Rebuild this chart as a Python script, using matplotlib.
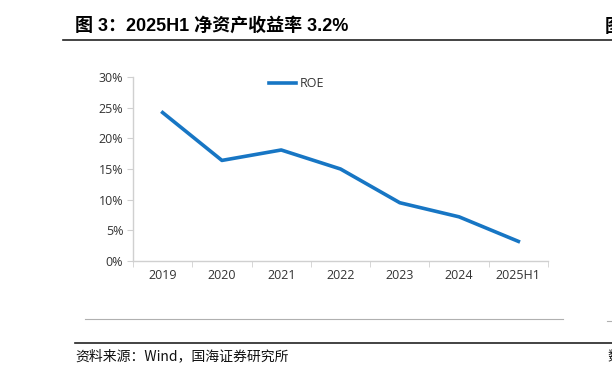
import matplotlib
matplotlib.use("Agg")
import matplotlib.pyplot as plt
from matplotlib.lines import Line2D

plt.rcParams['font.family'] = ['Open Sans', 'Noto Sans CJK SC', 'DejaVu Sans']

categories = ["2019", "2020", "2021", "2022", "2023", "2024", "2025H1"]
roe = [24.2, 16.4, 18.1, 15.0, 9.5, 7.2, 3.2]
yticks = [0, 5, 10, 15, 20, 25, 30]
title = "图 3：2025H1 净资产收益率 3.2%"
source = "资料来源：Wind，国海证券研究所"

W, H = 612, 379
fig = plt.figure(figsize=(W / 100, H / 100), dpi=100)
ax = fig.add_axes([133 / W, 1 - 261 / H, (548 - 133) / W, (261 - 77) / H])

x = list(range(len(categories)))
ax.plot(x, roe, color="#1776C4", lw=2.6, label="ROE", solid_joinstyle="round")
ax.set_xlim(-0.5, len(categories) - 0.5)
ax.set_ylim(0, 30)
ax.set_yticks(yticks)
ax.set_yticklabels([f"{v}%" for v in yticks], fontsize=9, color="#333333")
ax.set_xticks(x)
ax.set_xticklabels(categories, fontsize=9, color="#333333")
ax.set_xticks([i - 0.5 for i in range(len(categories) + 1)], minor=True)
ax.tick_params(axis="x", which="major", length=0, pad=6)
ax.tick_params(axis="x", which="minor", length=4, color="#d0d0d0", direction="out")
ax.tick_params(axis="y", length=4, color="#d0d0d0", pad=3)
for s in ["top", "right"]:
    ax.spines[s].set_visible(False)
for s in ["left", "bottom"]:
    ax.spines[s].set_color("#d0d0d0")
    ax.spines[s].set_linewidth(1)
ax.legend(loc="upper left", bbox_to_anchor=(0.3, 1.06), frameon=False, fontsize=9,
          handlelength=2.2, handletextpad=0.3, labelcolor="#333333")

# title and rules
fig.text(75 / W, 1 - 26 / H, title, fontsize=13, fontweight="bold", va="center", ha="left",
         family=['Liberation Sans', 'Noto Sans CJK SC'])
fig.text(605 / W, 1 - 26 / H, "图", fontsize=13, fontweight="bold", va="center", ha="left",
         family=['Noto Sans CJK SC'])
fig.add_artist(Line2D([63 / W, 1], [1 - 40 / H, 1 - 40 / H], color="#222222", lw=1.2))
fig.add_artist(Line2D([85 / W, 563 / W], [1 - 319 / H, 1 - 319 / H], color="#b0b0b0", lw=0.8))
fig.add_artist(Line2D([607 / W, 1], [1 - 321 / H, 1 - 321 / H], color="#b0b0b0", lw=0.8))
fig.add_artist(Line2D([75 / W, 1], [1 - 343 / H, 1 - 343 / H], color="#222222", lw=1.2))
fig.text(75 / W, 1 - 356 / H, source, fontsize=10, va="center", ha="left", color="#111111",
         family=['Noto Sans CJK SC', 'DejaVu Sans'])
fig.text(607 / W, 1 - 356 / H, "数", fontsize=10, va="center", ha="left", color="#111111",
         family=['Noto Sans CJK SC'])

fig.savefig("out.png", dpi=100)
